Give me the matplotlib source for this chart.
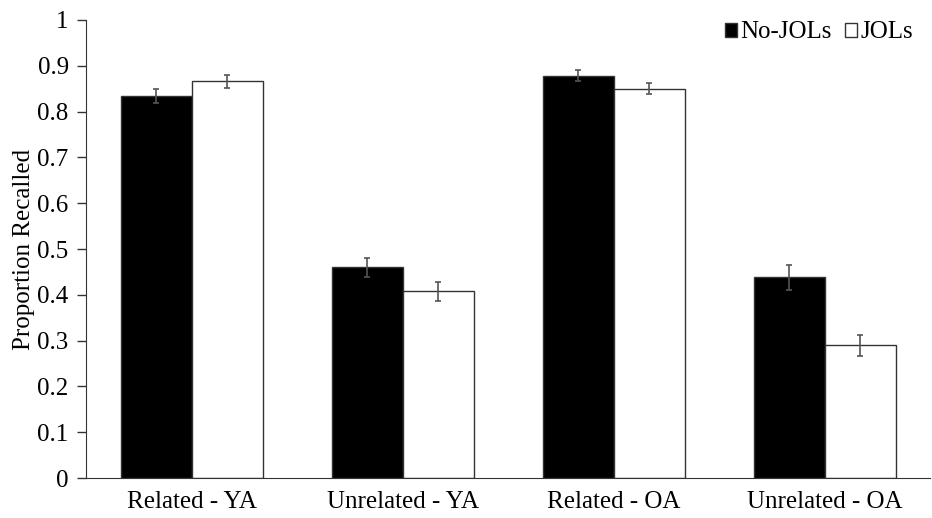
import numpy as np
import matplotlib
matplotlib.use('Agg')
from matplotlib import pyplot as plt

# Dados
categorias = ['Related - YA', 'Unrelated - YA', 'Related - OA', 'Unrelated - OA']
no_jols = [0.834, 0.460, 0.878, 0.438]
jols = [0.866, 0.408, 0.850, 0.290]
erro_no_jols = [0.015, 0.021, 0.012, 0.028]
erro_jols = [0.014, 0.021, 0.012, 0.023]

plt.rcParams['font.family'] = ['Liberation Serif', 'DejaVu Serif']

fig = plt.figure(figsize=(9.32, 5.18), dpi=100)
ax = fig.add_axes([0.0923, 0.0772, 0.906, 0.8842])

x = np.arange(len(categorias))
largura = 0.336
err_kw = dict(ecolor='#555555', elinewidth=1.2, capsize=2.5, capthick=1.2)

ax.bar(x - largura / 2, no_jols, largura, yerr=erro_no_jols, color='black',
       edgecolor='#333333', linewidth=1, label='No-JOLs', error_kw=err_kw)
ax.bar(x + largura / 2, jols, largura, yerr=erro_jols, color='white',
       edgecolor='#333333', linewidth=1, label='JOLs', error_kw=err_kw)

ax.set_xlim(-0.5, len(categorias) - 0.5)
ax.set_ylim(0, 1)
ax.set_yticks(np.arange(0, 1.01, 0.1))
ax.set_yticklabels(['0'] + ['%.1f' % v for v in np.arange(0.1, 0.95, 0.1)] + ['1'])
ax.set_xticks(x)
ax.set_xticklabels(categorias)
ax.tick_params(axis='x', length=0, pad=9, labelsize=18)
ax.tick_params(axis='y', length=6.5, width=1, direction='out', pad=6, labelsize=18, color='#333333')

for lado in ['top', 'right']:
    ax.spines[lado].set_visible(False)
ax.spines['left'].set_color('#333333')
ax.spines['bottom'].set_color('#333333')

ax.set_ylabel('Proportion Recalled', fontsize=18, labelpad=2)

ax.legend(loc='upper right', bbox_to_anchor=(1.0, 1.035), ncol=2, frameon=False,
          fontsize=18, handlelength=0.48, handleheight=0.48, handletextpad=0.15,
          columnspacing=0.5, borderpad=0.2)

fig.savefig('out.png', dpi=100)
